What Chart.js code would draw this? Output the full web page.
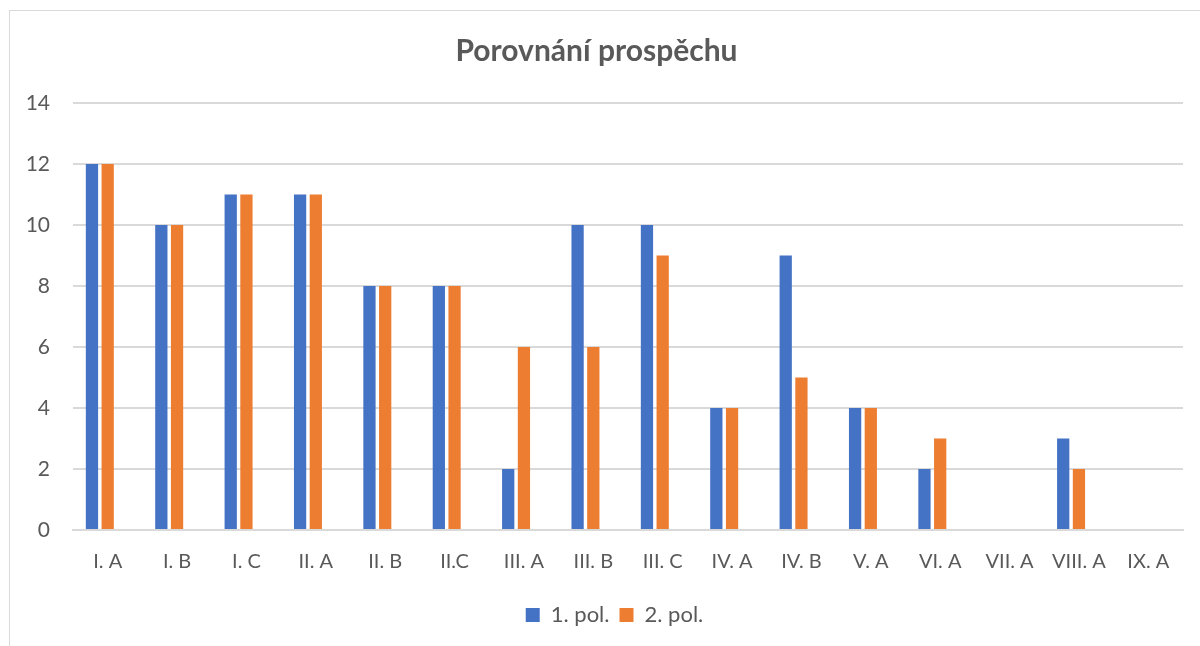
<!DOCTYPE html>
<html>
<head>
<meta charset="utf-8">
<script src="https://cdn.jsdelivr.net/npm/chart.js@4.4.1/dist/chart.umd.min.js"></script>
<style>
  html, body { margin: 0; padding: 0; background: #fff; overflow: hidden; }
  #wrap { position: relative; width: 1200px; height: 646px; }
  #frame { position: absolute; left: 9px; top: 10px; width: 1300px; height: 800px; border: 1px solid #d9d9d9; box-sizing: border-box; }
  canvas { position: absolute; left: 0; top: 0; }
</style>
</head>
<body>
<div id="wrap">
  <div id="frame"></div>
  <canvas id="barChart" width="1200" height="646"></canvas>
</div>
<script>
// Data
var classes = ['I. A', 'I. B', 'I. C', 'II. A', 'II. B', 'II.C', 'III. A', 'III. B', 'III. C',
               'IV. A', 'IV. B', 'V. A', 'VI. A', 'VII. A', 'VIII. A', 'IX. A'];
var firstTerm = [12, 10, 11, 11, 8, 8, 2, 10, 10, 4, 9, 4, 2, 0, 3, 0];
var secondTerm = [12, 10, 11, 11, 8, 8, 6, 6, 9, 4, 5, 4, 3, 0, 2, 0];
// the original has an empty third series, which keeps its slot in each group
var emptySeries = [null, null, null, null, null, null, null, null, null, null, null, null, null, null, null, null];
var yTicks = [0, 2, 4, 6, 8, 10, 12, 14];

var grey = '#595959';
var font = 'Lato, "Noto Sans", sans-serif';

// legend sits a bit right of centre in the original
var legendShift = {
    id: 'legendShift',
    afterLayout: function (chart) {
        chart.legend.left += 18;
        chart.legend.right += 18;
    }
};

var ctx = document.getElementById('barChart').getContext('2d');

var myChart = new Chart(ctx, {
    type: 'bar',
    data: {
        labels: classes,
        datasets: [{
            label: '1. pol.',
            data: firstTerm,
            backgroundColor: '#4472C4',
            categoryPercentage: 0.68,
            barPercentage: 0.78
        }, {
            label: '2. pol.',
            data: secondTerm,
            backgroundColor: '#ED7D31',
            categoryPercentage: 0.68,
            barPercentage: 0.78
        }, {
            label: '',
            data: emptySeries,
            backgroundColor: 'rgba(0,0,0,0)',
            categoryPercentage: 0.68,
            barPercentage: 0.78
        }]
    },
    plugins: [legendShift],
    options: {
        responsive: false,
        animation: false,
        layout: { padding: { left: 10, right: 17, top: 0, bottom: 10 } },
        plugins: {
            title: {
                display: true,
                text: 'Porovnání prospěchu',
                color: grey,
                font: { family: font, size: 30, weight: 'bold' },
                padding: { top: 33, bottom: 34 }
            },
            legend: {
                position: 'bottom',
                labels: {
                    color: grey,
                    font: { family: font, size: 22 },
                    boxWidth: 14,
                    boxHeight: 14,
                    padding: 10,
                    filter: function (item) { return item.text !== ''; }
                }
            },
            tooltip: { enabled: false }
        },
        scales: {
            x: {
                grid: { display: false, drawTicks: false },
                border: { display: true, color: '#d9d9d9', width: 2 },
                ticks: { color: grey, font: { family: font, size: 20 }, padding: 20, maxRotation: 0, autoSkip: false }
            },
            y: {
                min: 0,
                max: 14,
                afterBuildTicks: function (axis) {
                    axis.ticks = yTicks.map(function (v) { return { value: v }; });
                },
                grid: { color: '#d9d9d9', lineWidth: 2, drawTicks: false },
                border: { display: false },
                ticks: { color: grey, font: { family: font, size: 21 }, padding: 23 },
                afterFit: function (axis) { axis.width = 63; }
            }
        }
    }
});
</script>
</body>
</html>
